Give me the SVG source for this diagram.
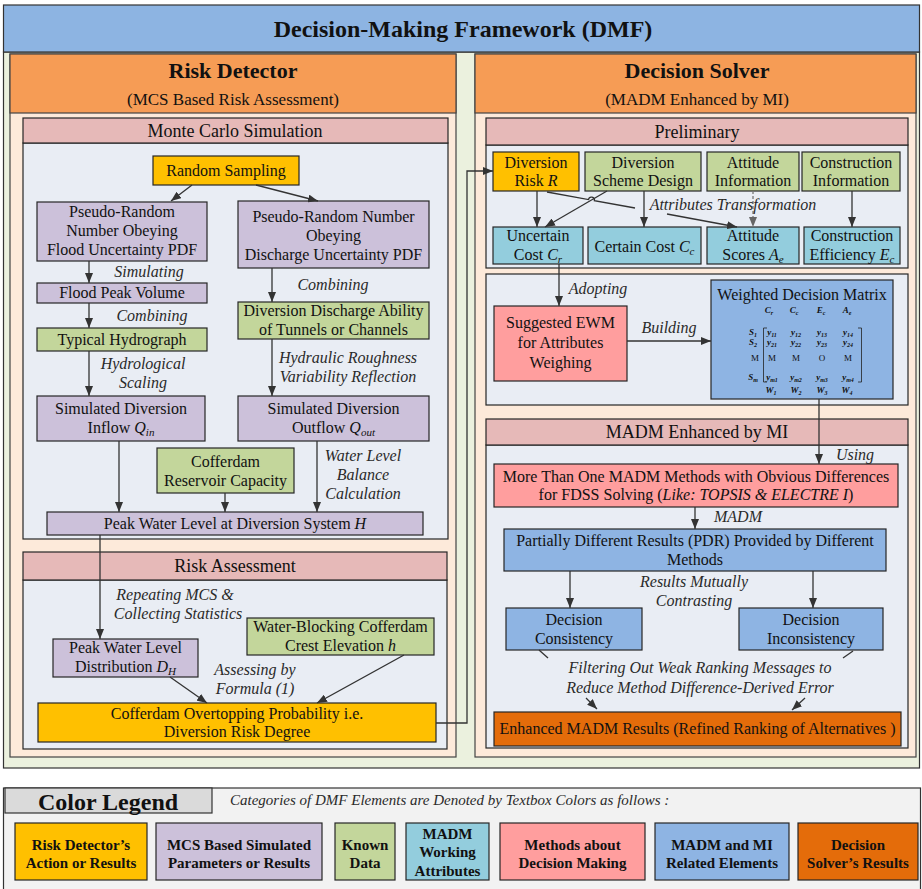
<svg xmlns="http://www.w3.org/2000/svg" width="922" height="889" viewBox="0 0 922 889">
<style>
text{font-family:"Liberation Serif","Times New Roman",serif;font-size:16px;fill:#111;text-anchor:middle}
.i{font-style:italic;fill:#2a2a2a}
.hd{font-size:18px}
.sub{font-size:11px}
.b{stroke:#262626;stroke-width:1.2}
.yl{fill:#FFC000}.lv{fill:#CCC1DA}.gr{fill:#C3D69B}.cy{fill:#93CDDD}.pk{fill:#FF9E9E}.bl{fill:#8EB4E3}.or{fill:#E46C0A}
.sh{fill:#E6B9B8}.sb{fill:#E9EDF4}
.ln{stroke:#333;stroke-width:1.3;fill:none}
.mx{font-size:9px;font-weight:bold;font-style:italic}
.mxs{font-size:6px}
.lg{font-size:15px;font-weight:bold}
</style>
<defs>
<marker id="ar" viewBox="0 0 10 8" refX="10" refY="4" markerWidth="10" markerHeight="8" markerUnits="userSpaceOnUse" orient="auto">
<path d="M0,0 L10,4 L0,8 z" fill="#333"/>
</marker>
<marker id="arg" viewBox="0 0 10 8" refX="10" refY="4" markerWidth="10" markerHeight="8" markerUnits="userSpaceOnUse" orient="auto">
<path d="M0,0 L10,4 L0,8 z" fill="#666"/>
</marker>
</defs>

<g id="frame">
<rect x="3.5" y="52" width="916" height="716" fill="#EBF1DE" stroke="#333" stroke-width="1.2"/>
<rect x="3.5" y="5" width="916" height="47" fill="#8DB4E2" stroke="#333" stroke-width="1.2"/>
<text x="463" y="37" style="font-size:24px;font-weight:bold">Decision-Making Framework (DMF)</text>
</g>

<g id="risk-detector">
<rect x="10" y="54" width="446" height="703" fill="#FDEADA" stroke="#444" stroke-width="1.2"/>
<rect x="10" y="54" width="446" height="59" fill="#F69C55" stroke="#444" stroke-width="1.2"/>
<text x="233" y="78" style="font-size:22px;font-weight:bold">Risk Detector</text>
<text x="233" y="105" style="font-size:17px">(MCS Based Risk Assessment)</text>
</g>

<g id="decision-solver">
<rect x="475" y="54" width="441" height="703" fill="#FDEADA" stroke="#444" stroke-width="1.2"/>
<rect x="475" y="54" width="441" height="59" fill="#F69C55" stroke="#444" stroke-width="1.2"/>
<text x="697" y="78" style="font-size:22px;font-weight:bold">Decision Solver</text>
<text x="697" y="105" style="font-size:17px">(MADM Enhanced by MI)</text>
</g>

<g id="monte-carlo">
<rect x="23" y="143" width="425" height="396" class="sb b"/>
<rect x="23" y="118" width="425" height="25" class="sh b"/>
<text x="235" y="137" class="hd">Monte Carlo Simulation</text>
</g>

<g id="risk-assessment">
<rect x="23" y="580" width="424" height="169" class="sb b"/>
<rect x="23" y="552" width="424" height="28" class="sh b"/>
<text x="235" y="572" class="hd">Risk Assessment</text>
</g>

<g id="preliminary">
<rect x="486" y="145" width="422" height="123" class="sb b"/>
<rect x="486" y="118" width="422" height="27" class="sh b"/>
<text x="697" y="138" class="hd">Preliminary</text>
</g>

<g id="weighting">
<rect x="486" y="274" width="422" height="131" class="sb b"/>
</g>

<g id="madm-mi">
<rect x="486" y="445" width="422" height="303" class="sb b"/>
<rect x="486" y="419" width="422" height="26" class="sh b"/>
<text x="697" y="438" class="hd">MADM Enhanced by MI</text>
</g>

<!-- Risk detector nodes -->
<g id="random-sampling">
<rect x="153" y="156" width="146" height="29" class="yl b"/>
<text x="226" y="176">Random Sampling</text>
</g>
<g id="pseudo-flood">
<rect x="37" y="202" width="170" height="59" class="lv b"/>
<text x="122" y="217">Pseudo-Random</text>
<text x="122" y="236">Number Obeying</text>
<text x="122" y="255">Flood Uncertainty PDF</text>
</g>
<g id="pseudo-discharge">
<rect x="238" y="201" width="191" height="67" class="lv b"/>
<text x="333.5" y="222">Pseudo-Random Number</text>
<text x="333.5" y="241">Obeying</text>
<text x="333.5" y="260">Discharge Uncertainty PDF</text>
</g>
<g id="flood-peak">
<rect x="37" y="283" width="170" height="20" class="lv b"/>
<text x="122" y="298">Flood Peak Volume</text>
</g>
<g id="typical-hydrograph">
<rect x="37" y="328" width="170" height="23" class="gr b"/>
<text x="122" y="345">Typical Hydrograph</text>
</g>
<g id="discharge-ability">
<rect x="238" y="302" width="191" height="37" class="gr b"/>
<text x="333.5" y="316">Diversion Discharge Ability</text>
<text x="333.5" y="335">of Tunnels or Channels</text>
</g>
<g id="inflow">
<rect x="37" y="396" width="168" height="45" class="lv b"/>
<text x="121" y="414">Simulated Diversion</text>
<text x="121" y="433">Inflow <tspan font-style="italic">Q</tspan><tspan class="sub" font-style="italic" dy="3">in</tspan></text>
</g>
<g id="outflow">
<rect x="238" y="396" width="191" height="45" class="lv b"/>
<text x="333.5" y="414">Simulated Diversion</text>
<text x="333.5" y="433">Outflow <tspan font-style="italic">Q</tspan><tspan class="sub" font-style="italic" dy="3">out</tspan></text>
</g>
<g id="reservoir-capacity">
<rect x="157" y="448" width="137" height="45" class="gr b"/>
<text x="225.5" y="467">Cofferdam</text>
<text x="225.5" y="486">Reservoir Capacity</text>
</g>
<g id="peak-water-level">
<rect x="47" y="512" width="376" height="23" class="lv b"/>
<text x="235" y="529">Peak Water Level at Diversion System <tspan font-style="italic">H</tspan></text>
</g>
<g id="distribution">
<rect x="53" y="639" width="145" height="38" class="lv b"/>
<text x="125.5" y="653">Peak Water Level</text>
<text x="125.5" y="672">Distribution <tspan font-style="italic">D</tspan><tspan class="sub" font-style="italic" dy="3">H</tspan></text>
</g>
<g id="crest-elevation">
<rect x="247" y="618" width="187" height="37" class="gr b"/>
<text x="340.5" y="632">Water-Blocking Cofferdam</text>
<text x="340.5" y="651">Crest Elevation <tspan font-style="italic">h</tspan></text>
</g>
<g id="overtopping">
<rect x="38" y="703" width="398" height="39" class="yl b"/>
<text x="237" y="719">Cofferdam Overtopping Probability i.e.</text>
<text x="237" y="737">Diversion Risk Degree</text>
</g>

<!-- Decision solver nodes -->
<g id="diversion-risk">
<rect x="493" y="152" width="86" height="39" class="yl b"/>
<text x="536" y="168">Diversion</text>
<text x="536" y="186">Risk  <tspan font-style="italic">R</tspan></text>
</g>
<g id="scheme-design">
<rect x="585" y="152" width="116" height="39" class="gr b"/>
<text x="643" y="168">Diversion</text>
<text x="643" y="186">Scheme Design</text>
</g>
<g id="attitude-info">
<rect x="707" y="152" width="92" height="39" class="gr b"/>
<text x="753" y="168">Attitude</text>
<text x="753" y="186">Information</text>
</g>
<g id="construction-info">
<rect x="802" y="152" width="98" height="39" class="gr b"/>
<text x="851" y="168">Construction</text>
<text x="851" y="186">Information</text>
</g>
<g id="uncertain-cost">
<rect x="493" y="227" width="90" height="37" class="cy b"/>
<text x="538" y="241">Uncertain</text>
<text x="538" y="260">Cost <tspan font-style="italic">C</tspan><tspan class="sub" font-style="italic" dy="3">r</tspan></text>
</g>
<g id="certain-cost">
<rect x="588" y="227" width="113" height="37" class="cy b"/>
<text x="644.5" y="252">Certain Cost <tspan font-style="italic">C</tspan><tspan class="sub" font-style="italic" dy="3">c</tspan></text>
</g>
<g id="attitude-scores">
<rect x="707" y="227" width="92" height="37" class="cy b"/>
<text x="753" y="241">Attitude</text>
<text x="753" y="260">Scores <tspan font-style="italic">A</tspan><tspan class="sub" font-style="italic" dy="3">e</tspan></text>
</g>
<g id="construction-efficiency">
<rect x="804" y="227" width="96" height="37" class="cy b"/>
<text x="852" y="241">Construction</text>
<text x="852" y="260">Efficiency <tspan font-style="italic">E</tspan><tspan class="sub" font-style="italic" dy="3">c</tspan></text>
</g>
<g id="ewm">
<rect x="494" y="306" width="133" height="75" class="pk b"/>
<text x="560.5" y="328">Suggested EWM</text>
<text x="560.5" y="348">for Attributes</text>
<text x="560.5" y="368">Weighing</text>
</g>
<g id="decision-matrix">
<rect x="711" y="280" width="182" height="119" class="bl b"/>
<text x="802" y="300">Weighted Decision Matrix</text>
<text x="769" y="313" class="mx">C<tspan class="mxs" dy="2">r</tspan></text>
<text x="794" y="313" class="mx">C<tspan class="mxs" dy="2">c</tspan></text>
<text x="821" y="313" class="mx">E<tspan class="mxs" dy="2">c</tspan></text>
<text x="847" y="313" class="mx">A<tspan class="mxs" dy="2">e</tspan></text>
<text x="753" y="335" class="mx">S<tspan class="mxs" dy="2">1</tspan></text>
<text x="753" y="345" class="mx">S<tspan class="mxs" dy="2">2</tspan></text>
<text x="755" y="361" style="font-size:9px">M</text>
<text x="753" y="380" class="mx">S<tspan class="mxs" dy="2">m</tspan></text>
<text x="772" y="335" class="mx">y<tspan class="mxs" dy="2">11</tspan></text>
<text x="796" y="335" class="mx">y<tspan class="mxs" dy="2">12</tspan></text>
<text x="822" y="335" class="mx">y<tspan class="mxs" dy="2">13</tspan></text>
<text x="848" y="335" class="mx">y<tspan class="mxs" dy="2">14</tspan></text>
<text x="772" y="345" class="mx">y<tspan class="mxs" dy="2">21</tspan></text>
<text x="796" y="345" class="mx">y<tspan class="mxs" dy="2">22</tspan></text>
<text x="822" y="345" class="mx">y<tspan class="mxs" dy="2">23</tspan></text>
<text x="848" y="345" class="mx">y<tspan class="mxs" dy="2">24</tspan></text>
<text x="772" y="361" style="font-size:9px">M</text>
<text x="796" y="361" style="font-size:9px">M</text>
<text x="822" y="361" style="font-size:9px">O</text>
<text x="848" y="361" style="font-size:9px">M</text>
<text x="772" y="380" class="mx">y<tspan class="mxs" dy="2">m1</tspan></text>
<text x="796" y="380" class="mx">y<tspan class="mxs" dy="2">m2</tspan></text>
<text x="822" y="380" class="mx">y<tspan class="mxs" dy="2">m3</tspan></text>
<text x="848" y="380" class="mx">y<tspan class="mxs" dy="2">m4</tspan></text>
<text x="771" y="393" class="mx">W<tspan class="mxs" dy="2">1</tspan></text>
<text x="796" y="393" class="mx">W<tspan class="mxs" dy="2">2</tspan></text>
<text x="822" y="393" class="mx">W<tspan class="mxs" dy="2">3</tspan></text>
<text x="847" y="393" class="mx">W<tspan class="mxs" dy="2">4</tspan></text>
<path d="M767,328 H763.5 V382 H767 M858,328 H861.5 V382 H858" fill="none" stroke="#222" stroke-width="0.8"/>
</g>
<g id="multiple-madm">
<rect x="494" y="464" width="404" height="43" class="pk b"/>
<text x="696" y="482">More Than One MADM Methods with Obvious Differences</text>
<text x="696" y="500">for FDSS Solving (<tspan font-style="italic">Like: TOPSIS &amp; ELECTRE I</tspan>)</text>
</g>
<g id="pdr">
<rect x="504" y="529" width="382" height="42" class="bl b"/>
<text x="695" y="546">Partially Different Results (PDR) Provided by Different</text>
<text x="695" y="565">Methods</text>
</g>
<g id="consistency">
<rect x="506" y="608" width="136" height="42" class="bl b"/>
<text x="574" y="625">Decision</text>
<text x="574" y="644">Consistency</text>
</g>
<g id="inconsistency">
<rect x="739" y="608" width="144" height="42" class="bl b"/>
<text x="811" y="625">Decision</text>
<text x="811" y="644">Inconsistency</text>
</g>
<g id="enhanced-results">
<rect x="494" y="712" width="407" height="34" class="or b"/>
<text x="697.5" y="734">Enhanced MADM Results (Refined Ranking of Alternatives )</text>
</g>

<g id="connectors">
<path class="ln" d="M192,185 L171,201" marker-end="url(#ar)"/>
<path class="ln" d="M256,185 L318,201" marker-end="url(#ar)"/>
<path class="ln" d="M89,261 V283" marker-end="url(#ar)"/>
<path class="ln" d="M89,303 V328" marker-end="url(#ar)"/>
<path class="ln" d="M272,268 V302" marker-end="url(#ar)"/>
<path class="ln" d="M89,351 V396" marker-end="url(#ar)"/>
<path class="ln" d="M272,339 V396" marker-end="url(#ar)"/>
<path class="ln" d="M119,441 V512" marker-end="url(#ar)"/>
<path class="ln" d="M225,493 V512" marker-end="url(#ar)"/>
<path class="ln" d="M317,441 V512" marker-end="url(#ar)"/>
<path class="ln" d="M100,535 V639" marker-end="url(#ar)"/>
<path class="ln" d="M170,677 L207,703" marker-end="url(#ar)"/>
<path class="ln" d="M404,655 L317,703" marker-end="url(#ar)"/>
<path class="ln" d="M436,723 H467 V171 H493" marker-end="url(#ar)"/>
<path class="ln" d="M537,191 V227" marker-end="url(#ar)"/>
<path class="ln" d="M607,191 L545,227" marker-end="url(#ar)"/>
<path class="ln" d="M547,192 L588.5,199.6 A3,3 0 0 1 594.4,200.7 L635,208"/>
<path class="ln" d="M667,214 L737,227" marker-end="url(#ar)"/>
<path class="ln" d="M644,191 V227" marker-end="url(#ar)"/>
<path d="M753,191 V227" fill="none" stroke="#777" stroke-width="1.3" stroke-dasharray="3,2" marker-end="url(#arg)"/>
<path class="ln" d="M852,191 V227" marker-end="url(#ar)"/>
<path class="ln" d="M559,264 V306" marker-end="url(#ar)"/>
<path class="ln" d="M627,341 H711" marker-end="url(#ar)"/>
<path class="ln" d="M819,399 V464" marker-end="url(#ar)"/>
<path class="ln" d="M695,507 V529" marker-end="url(#ar)"/>
<path class="ln" d="M570,571 V608" marker-end="url(#ar)"/>
<path class="ln" d="M813,571 V608" marker-end="url(#ar)"/>
<path class="ln" d="M539,650 L548,658"/>
<path class="ln" d="M586,698 L597,709" marker-end="url(#ar)"/>
<path class="ln" d="M853,651 L843,658"/>
<path class="ln" d="M805,698 L792,710" marker-end="url(#ar)"/>
</g>

<g id="connector-labels">
<text x="149" y="277" class="i">Simulating</text>
<text x="152" y="321" class="i">Combining</text>
<text x="333" y="290" class="i">Combining</text>
<text x="143" y="369" class="i">Hydrological</text>
<text x="143" y="388" class="i">Scaling</text>
<text x="348" y="363" class="i">Hydraulic Roughness</text>
<text x="348" y="382" class="i">Variability Reflection</text>
<text x="363" y="461" class="i">Water Level</text>
<text x="363" y="480" class="i">Balance</text>
<text x="363" y="499" class="i">Calculation</text>
<text x="175" y="600" class="i">Repeating MCS &amp;</text>
<text x="178" y="619" class="i">Collecting Statistics</text>
<text x="255" y="675" class="i">Assessing by</text>
<text x="255" y="694" class="i">Formula (1)</text>
<text x="733" y="210" class="i">Attributes Transformation</text>
<text x="598" y="294" class="i">Adopting</text>
<text x="669" y="333" class="i">Building</text>
<text x="855" y="460" class="i">Using</text>
<text x="738" y="522" class="i">MADM</text>
<text x="694" y="587" class="i">Results Mutually</text>
<text x="694" y="606" class="i">Contrasting</text>
<text x="700" y="673" class="i">Filtering Out Weak Ranking Messages to</text>
<text x="700" y="693" class="i">Reduce Method Difference-Derived Error</text>
</g>

<g id="legend">
<rect x="3.5" y="788" width="917" height="105" fill="#F2F2F2" stroke="#333" stroke-width="1.2"/>
<rect x="5" y="788" width="207" height="25" fill="#DADADA" stroke="#333" stroke-width="1.2"/>
<text x="108" y="810" style="font-size:24px;font-weight:bold">Color Legend</text>
<text x="230" y="805" class="i" style="text-anchor:start;font-size:15px">Categories of DMF Elements are Denoted by Textbox Colors as follows :</text>
<rect x="15" y="823" width="132" height="57" class="yl b"/>
<text x="81" y="850" class="lg">Risk Detector’s</text>
<text x="81" y="868" class="lg">Action or Results</text>
<rect x="156" y="823" width="166" height="57" class="lv b"/>
<text x="239" y="850" class="lg">MCS Based Simulated</text>
<text x="239" y="868" class="lg">Parameters or Results</text>
<rect x="335" y="823" width="60" height="57" class="gr b"/>
<text x="365" y="850" class="lg">Known</text>
<text x="365" y="868" class="lg">Data</text>
<rect x="406" y="823" width="83" height="57" class="cy b"/>
<text x="447.5" y="839" class="lg">MADM</text>
<text x="447.5" y="857" class="lg">Working</text>
<text x="447.5" y="876" class="lg">Attributes</text>
<rect x="500" y="823" width="145" height="57" class="pk b"/>
<text x="572.5" y="850" class="lg">Methods about</text>
<text x="572.5" y="868" class="lg">Decision Making</text>
<rect x="655" y="823" width="134" height="57" class="bl b"/>
<text x="722" y="850" class="lg">MADM and MI</text>
<text x="722" y="868" class="lg">Related Elements</text>
<rect x="798" y="823" width="120" height="57" class="or b"/>
<text x="858" y="850" class="lg">Decision</text>
<text x="858" y="868" class="lg">Solver’s Results</text>
</g>
</svg>
